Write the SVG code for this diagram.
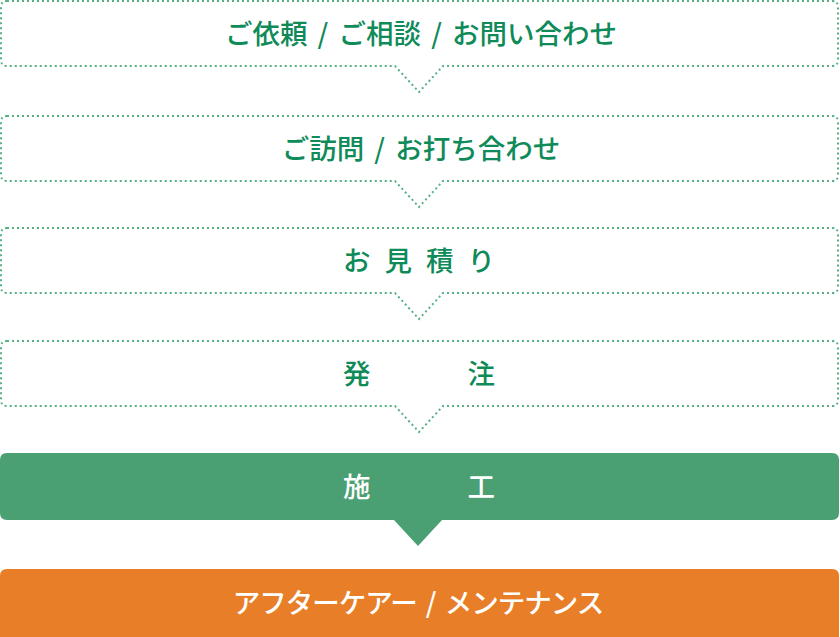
<svg xmlns="http://www.w3.org/2000/svg" width="840" height="637" viewBox="0 0 840 637">
<style>
.dot{fill:#ffffff;stroke:#55b083;stroke-width:2;stroke-dasharray:2 3}
.lbl{font-family:"Noto Sans CJK JP","Noto Sans",sans-serif;font-size:27.5px;font-weight:500;text-anchor:middle;word-spacing:4px}
.g{fill:#0f8a59}
.w{fill:#ffffff}
</style>
<rect width="840" height="637" fill="#ffffff"/>
<g id="step1">
<path class="dot" d="M7,1 H832 Q838,1 838,7 V60 Q838,66 832,66 H443 L419,92 L395,66 H7 Q1,66 1,60 V7 Q1,1 7,1 Z"/>
<text class="lbl g" x="421" y="43.5">ご依頼 / ご相談 / お問い合わせ</text>
</g>
<g id="step2">
<path class="dot" d="M7,116 H832 Q838,116 838,122 V175 Q838,181 832,181 H443 L419,207 L395,181 H7 Q1,181 1,175 V122 Q1,116 7,116 Z"/>
<text class="lbl g" x="421" y="158.5">ご訪問 / お打ち合わせ</text>
</g>
<g id="step3">
<path class="dot" d="M7,228 H832 Q838,228 838,234 V287 Q838,293 832,293 H443 L419,319 L395,293 H7 Q1,293 1,287 V234 Q1,228 7,228 Z"/>
<text class="lbl g" x="419" y="270.5" textLength="152" lengthAdjust="spacing">お 見 積 り</text>
</g>
<g id="step4">
<path class="dot" d="M7,341 H832 Q838,341 838,347 V400 Q838,406 832,406 H443 L419,432 L395,406 H7 Q1,406 1,400 V347 Q1,341 7,341 Z"/>
<text class="lbl g" x="419" y="383.5" textLength="152" lengthAdjust="spacing">発 注</text>
</g>
<g id="step5">
<path fill="#4a9f73" d="M7,453 H832 Q839,453 839,460 V513 Q839,520 832,520 H442 L418,546 L394,520 H7 Q0,520 0,513 V460 Q0,453 7,453 Z"/>
<text class="lbl w" x="419" y="496.5" textLength="152" lengthAdjust="spacing">施 工</text>
</g>
<g id="step6">
<path fill="#e87e27" d="M7,569 H832 Q839,569 839,576 V637 H0 V576 Q0,569 7,569 Z"/>
<text class="lbl w" x="418" y="612.5" style="letter-spacing:-1px">アフターケアー / メンテナンス</text>
</g>
<g id="connectors"></g>
</svg>
